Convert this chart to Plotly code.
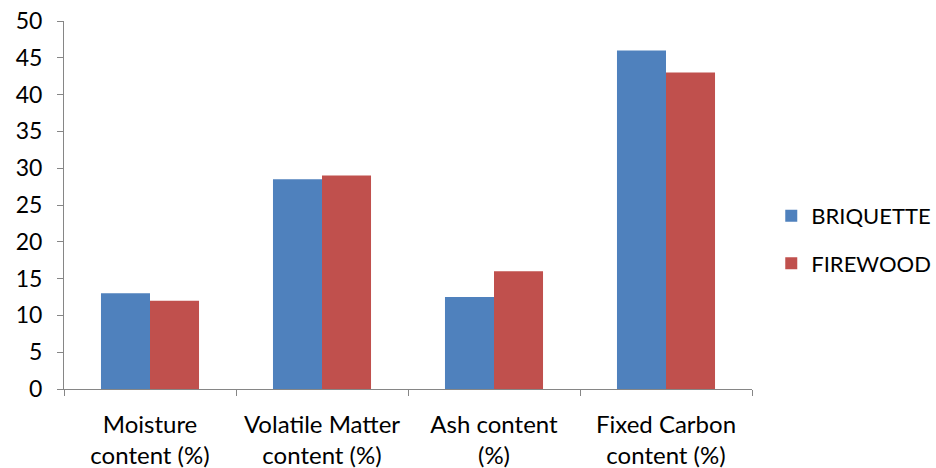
import plotly.graph_objects as go

categories = ["Moisture<br>content (%)", "Volatile Matter<br>content (%)", "Ash content<br>(%)", "Fixed Carbon<br>content (%)"]
briquette = [13, 28.5, 12.5, 46]
firewood = [12, 29, 16, 43]
y_ticks = [0, 5, 10, 15, 20, 25, 30, 35, 40, 45, 50]

FONT = "Lato"
fig = go.Figure()
fig.add_trace(go.Bar(name="BRIQUETTE", x=categories, y=briquette, marker_color="#4F81BD",
                     marker_line_width=0, legendgroup="a"))
fig.add_trace(go.Bar(name="FIREWOOD", x=categories, y=firewood, marker_color="#C0504D",
                     marker_line_width=0, legendgroup="b"))

fig.update_layout(
    width=936, height=468,
    margin=dict(l=64, r=184, t=21, b=79, autoexpand=False),
    paper_bgcolor="white", plot_bgcolor="white",
    barmode="group", bargap=0.43, bargroupgap=0,
    font=dict(family=FONT, size=23, color="#000000"),
    legend=dict(x=1.028, y=0.405, xanchor="left", yanchor="middle",
                font=dict(family=FONT, size=22, color="#000000"),
                tracegroupgap=16, itemwidth=30),
    showlegend=True,
)
fig.update_xaxes(showline=True, linecolor="#868686", linewidth=1, automargin=False, tickangle=0,
                 ticks="outside", tickson="boundaries", ticklen=6, tickcolor="#868686",
                 showgrid=False, ticklabelstandoff=14, tickfont=dict(family=FONT, size=24))
fig.update_yaxes(range=[0, 50], tickvals=y_ticks, showline=True, linecolor="#868686", linewidth=1,
                 automargin=False,
                 ticks="outside", ticklen=6, tickcolor="#868686", showgrid=False, zeroline=False,
                 ticklabelstandoff=10, tickfont=dict(family=FONT, size=23))

fig.write_html("out.html")
